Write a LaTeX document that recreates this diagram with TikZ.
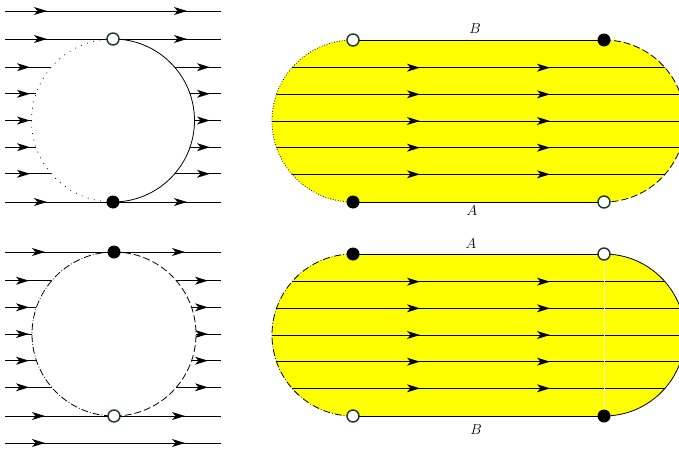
\documentclass[tikz,border=0pt]{standalone}
\usetikzlibrary{arrows.meta}
\definecolor{ring}{RGB}{25,55,45}
\definecolor{fillyel}{RGB}{255,255,0}
\definecolor{paleline}{RGB}{255,255,190}
\begin{document}
\begin{tikzpicture}[x=1pt,y=-1pt,
  flow/.style={line width=0.8pt,black},
  sparsedots/.style={line width=0.8pt,dash pattern=on 0.8pt off 5.6pt},
  densedots/.style={line width=0.8pt,dash pattern=on 0.8pt off 1.8pt},
  dashline/.style={line width=0.8pt,dash pattern=on 7pt off 3pt},
  dashdotline/.style={line width=0.8pt,dash pattern=on 7pt off 2pt on 0.8pt off 2pt},
  openpt/.style={circle,fill=white,draw=ring,line width=1.4pt,inner sep=0pt,minimum size=12pt},
  fullpt/.style={circle,fill=black,inner sep=0pt,minimum size=13pt},
  arrowtip/.pic={\fill (0,0) -- (-13,-4) -- (-9.5,0) -- (-13,4) -- cycle;},
  lbl/.style={font=\fontsize{14.4}{17}\selectfont,inner sep=0pt}]
\useasboundingbox (0,0) rectangle (679,452);
\clip (0,0) rectangle (679,452);

% ---------- top-left panel ----------
\foreach \dy in {-53.3,-26.7,0,26.7,53.3}{
  \draw[flow] (5,120.5+\dy) -- (221,120.5+\dy);
  \pic at (30,120.5+\dy) {arrowtip};
  \pic at (210,120.5+\dy) {arrowtip};
}
\fill[white] (113,120.5) circle[radius=81.5];
\foreach \y in {11,39,202}{
  \draw[flow] (5,\y) -- (221,\y);
  \pic at (47,\y) {arrowtip};
  \pic at (187,\y) {arrowtip};
}
\draw[sparsedots] (113,39) arc[start angle=-90,end angle=-270,radius=81.5];
\draw[flow] (113,39) arc[start angle=-90,end angle=90,radius=81.5];
\node[openpt] (p1top) at (113,39) {};
\node[fullpt] (p1bot) at (113,202) {};

% ---------- bottom-left panel ----------
\foreach \dy in {-53.3,-26.7,0,26.7,53.3}{
  \draw[flow] (5,334+\dy) -- (221,334+\dy);
  \pic at (29,334+\dy) {arrowtip};
  \pic at (208,334+\dy) {arrowtip};
}
\fill[white] (114,334) circle[radius=82];
\foreach \y in {252,416,443}{
  \draw[flow] (5,\y) -- (221,\y);
  \pic at (45,\y) {arrowtip};
  \pic at (185,\y) {arrowtip};
}
\draw[dashdotline] (114,252) arc[start angle=-90,end angle=-270,radius=82];
\draw[dashline] (114,252) arc[start angle=-90,end angle=90,radius=82];
\node[fullpt] (p2top) at (114,252) {};
\node[openpt] (p2bot) at (114,416) {};

% ---------- top-right stadium ----------
\fill[fillyel] (353,40) -- (604,40) arc[start angle=-90,end angle=90,radius=81]
  -- (353,202) arc[start angle=90,end angle=270,radius=81] -- cycle;
\begin{scope}
  \clip (353,40) -- (604,40) arc[start angle=-90,end angle=90,radius=81]
    -- (353,202) arc[start angle=90,end angle=270,radius=81] -- cycle;
  \foreach \dy in {-53.3,-26.7,0,26.7,53.3}{
    \draw[flow] (260,121+\dy) -- (700,121+\dy);
  }
\end{scope}
\foreach \dy in {-53.3,-26.7,0,26.7,53.3}{
  \pic at (420,121+\dy) {arrowtip};
  \pic at (550,121+\dy) {arrowtip};
}
\draw[flow] (353,40) -- (604,40);
\draw[flow] (353,202) -- (604,202);
\draw[densedots] (353,40) arc[start angle=-90,end angle=-270,radius=81];
\draw[dashline] (604,40) arc[start angle=-90,end angle=90,radius=81];
\node[openpt] (p3tl) at (353,40) {};
\node[fullpt] (p3tr) at (604,40) {};
\node[fullpt] (p3bl) at (353,202) {};
\node[openpt] (p3br) at (604,202) {};
\node[lbl] (p3B) at (475,29) {$B$};
\node[lbl] (p3A) at (472,211) {$A$};

% ---------- bottom-right stadium ----------
\fill[fillyel] (353,254) -- (604,254) arc[start angle=-90,end angle=90,radius=81]
  -- (353,416) arc[start angle=90,end angle=270,radius=81] -- cycle;
\begin{scope}
  \clip (353,254) -- (604,254) arc[start angle=-90,end angle=90,radius=81]
    -- (353,416) arc[start angle=90,end angle=270,radius=81] -- cycle;
  \foreach \dy in {-53.3,-26.7,0,26.7,53.3}{
    \draw[flow] (260,335+\dy) -- (700,335+\dy);
  }
\end{scope}
\foreach \dy in {-53.3,-26.7,0,26.7,53.3}{
  \pic at (420,335+\dy) {arrowtip};
  \pic at (550,335+\dy) {arrowtip};
}
\draw[paleline,line width=0.4pt] (604,254) -- (604,416);
\draw[flow] (353,254) -- (604,254);
\draw[flow] (353,416) -- (604,416);
\draw[dashdotline] (353,254) arc[start angle=-90,end angle=-270,radius=81];
\draw[flow] (604,254) arc[start angle=-90,end angle=90,radius=81];
\node[fullpt] (p4tl) at (353,254) {};
\node[openpt] (p4tr) at (604,254) {};
\node[openpt] (p4bl) at (353,416) {};
\node[fullpt] (p4br) at (604,416) {};
\node[lbl] (p4A) at (471,244) {$A$};
\node[lbl] (p4B) at (476,430) {$B$};
\end{tikzpicture}
\end{document}
